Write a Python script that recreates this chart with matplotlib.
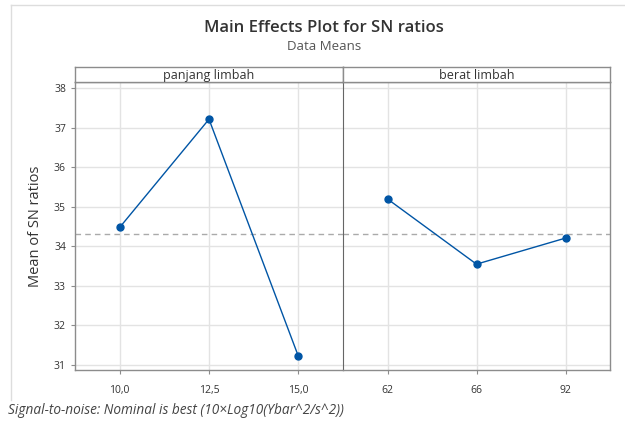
import matplotlib
matplotlib.use("Agg")
import matplotlib.pyplot as plt
from matplotlib.lines import Line2D

plt.rcParams['font.family'] = ['Open Sans', 'DejaVu Sans']

# data
factors = ['panjang limbah', 'berat limbah']
levels = [['10,0', '12,5', '15,0'], ['62', '66', '92']]
sn_means = [[34.48, 37.22, 31.22], [35.20, 33.55, 34.21]]
grand_mean = 34.31
yticks = [31, 32, 33, 34, 35, 36, 37, 38]

line_col = '#0055A5'
spine_col = '#8C8C8C'
grid_col = '#E3E3E3'

fig = plt.figure(figsize=(6.25, 4.21), dpi=100)

# faint frame of the original screenshot
fig.add_artist(Line2D([11/625, 11/625], [1 - 5/421, 1 - 400/421], color='#DDDDDD', lw=1))
fig.add_artist(Line2D([11/625, 1.0], [1 - 5/421, 1 - 5/421], color='#DDDDDD', lw=1))

fig.text(324/625, 1 - 28/421, 'Main Effects Plot for SN ratios', ha='center', va='center',
         fontsize=12, fontweight='semibold', color='#333333')
fig.text(324/625, 1 - 46/421, 'Data Means', ha='center', va='center', fontsize=9.5, color='#555555')

bottom, top = 1 - 370/421, 1 - 81.7/421
strip_top = 1 - 66.7/421
panels = [(75/625, 268/625), (343/625, 267/625)]

for i, (x0, w) in enumerate(panels):
    ax = fig.add_axes([x0, bottom, w, top - bottom])
    xs = list(range(len(levels[i])))
    ax.plot(xs, sn_means[i], color=line_col, lw=1, marker='o', ms=5, zorder=3)
    ax.axhline(grand_mean, color='#AAAAAA', lw=1, ls=(0, (4, 3)), zorder=2)
    ax.set_xlim(-0.5, 2.5)
    ax.set_ylim(30.87, 38.17)
    ax.set_xticks(xs)
    ax.set_xticklabels(levels[i])
    ax.set_yticks(yticks)
    ax.grid(True, color=grid_col, lw=1)
    ax.set_axisbelow(True)
    ax.tick_params(labelsize=7.5, colors='#333333', length=3, width=0.8, color=spine_col)
    ax.tick_params(axis='x', pad=8)
    for s in ax.spines.values():
        s.set_color(spine_col)
        s.set_linewidth(1)
    if i == 0:
        ax.set_ylabel('Mean of SN ratios', fontsize=10.5, color='#333333', labelpad=8)
        ax.spines['right'].set_visible(False)
    else:
        ax.tick_params(axis='y', left=False, labelleft=False)
        ax.spines['left'].set_color('#666666')
        ax.spines['left'].set_linewidth(0.8)

    # strip with factor name
    sax = fig.add_axes([x0, top, w, strip_top - top])
    sax.set_xticks([])
    sax.set_yticks([])
    for s in sax.spines.values():
        s.set_color(spine_col)
        s.set_linewidth(1)
    sax.text(0.5, 0.4, factors[i], ha='center', va='center', fontsize=9, color='#333333',
             transform=sax.transAxes)

fig.text(8/625, 1 - 411/421, 'Signal-to-noise: Nominal is best (10\u00d7Log10(Ybar^2/s^2))',
         ha='left', va='center', fontsize=9.8, style='italic', color='#444444')

fig.savefig('out.png', dpi=100)
